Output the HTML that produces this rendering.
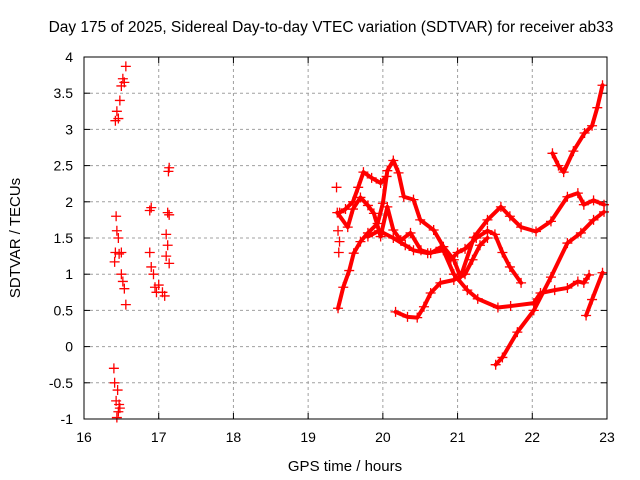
<!DOCTYPE html>
<html><head><meta charset="utf-8"><style>
body{margin:0;background:#fff;}
svg{display:block;font-family:"Liberation Sans",sans-serif;}
</style></head><body>
<svg id="chart" width="640" height="480">
<text x="331" y="32" font-size="15.5" text-anchor="middle">Day 175 of 2025, Sidereal Day-to-day VTEC variation (SDTVAR) for receiver ab33</text>
<text x="0" y="0" font-size="15" text-anchor="middle" transform="translate(20,238) rotate(-90)">SDTVAR / TECUs</text>
<text x="345" y="471" font-size="15" text-anchor="middle">GPS time / hours</text>
<g id="grid"></g><g id="ticks"></g><g id="marks"></g>
<rect x="84" y="57" width="523" height="362" fill="none" stroke="#000" stroke-width="1"/>
</svg>
<script>
const xTicks=[16,17,18,19,20,21,22,23];
const yTicks=[-1,-0.5,0,0.5,1,1.5,2,2.5,3,3.5,4];
const s1=[[19.4,0.53],[19.47,0.82],[19.55,1.05],[19.61,1.29],[19.7,1.45],[19.8,1.57],[19.93,1.7],[20.0,1.98],[20.06,2.43],[20.14,2.57],[20.21,2.4],[20.28,2.07],[20.41,2.03],[20.5,1.75],[20.68,1.61],[20.81,1.38],[20.95,1.2],[21.04,0.96],[21.22,1.51],[21.4,1.75],[21.58,1.93],[21.7,1.8],[21.85,1.65],[22.05,1.59],[22.25,1.73],[22.47,2.07],[22.61,2.12],[22.69,1.96],[22.82,2.02],[22.96,1.96]];
const s2=[[19.42,1.85],[19.5,1.9],[19.6,2.0],[19.67,2.2],[19.74,2.41],[19.85,2.33],[19.97,2.26],[20.05,2.35]];
const s3=[[19.39,1.85],[19.53,1.65],[19.6,1.9],[19.7,2.06],[19.8,1.95],[19.88,1.84],[19.97,1.52],[20.06,1.93],[20.14,1.61],[20.24,1.47],[20.37,1.57],[20.51,1.33],[20.64,1.29],[20.77,1.37],[20.91,1.2],[21.0,1.3],[21.1,1.35],[21.25,1.5],[21.4,1.6],[21.5,1.55],[21.6,1.3],[21.7,1.1],[21.85,0.88]];
const s4=[[19.8,1.52],[19.95,1.6],[20.14,1.5],[20.3,1.4],[20.41,1.33],[20.6,1.29],[20.81,1.33],[20.95,1.0],[21.13,0.78],[21.27,0.66],[21.54,0.54],[21.71,0.56],[22.02,0.6],[22.11,0.74],[22.3,0.78],[22.47,0.81],[22.61,0.9],[22.69,0.88],[22.76,0.99]];
const s5=[[20.17,0.48],[20.33,0.41],[20.46,0.4],[20.55,0.55],[20.64,0.74],[20.77,0.88],[20.95,0.92],[21.1,1.0],[21.2,1.2],[21.3,1.4],[21.4,1.5]];
const s6=[[21.51,-0.25],[21.6,-0.15],[21.8,0.2],[22.02,0.5],[22.25,0.96],[22.47,1.43],[22.65,1.57],[22.82,1.75],[22.96,1.86]];
const s7=[[22.27,2.67],[22.35,2.5],[22.42,2.41],[22.55,2.7],[22.7,2.95],[22.8,3.05],[22.87,3.3],[22.94,3.61]];
const s8=[[22.72,0.43],[22.8,0.65],[22.94,1.02]];
const scatter=[[16.42,3.12],[16.44,3.25],[16.46,3.15],[16.48,3.4],[16.5,3.6],[16.52,3.7],[16.54,3.65],[16.56,3.87],[16.43,1.8],[16.44,1.6],[16.46,1.5],[16.42,1.3],[16.41,1.17],[16.47,1.28],[16.5,1.0],[16.52,0.9],[16.54,0.8],[16.56,0.58],[16.5,1.3],[16.4,-0.3],[16.41,-0.5],[16.43,-0.75],[16.45,-0.6],[16.46,-0.9],[16.48,-0.85],[16.44,-0.98],[16.47,-0.8],[16.88,1.88],[16.9,1.92],[16.88,1.3],[16.9,1.1],[16.93,1.0],[16.95,0.82],[16.97,0.75],[17.0,0.85],[17.05,0.75],[17.08,0.7],[17.1,1.55],[17.12,1.4],[17.1,1.25],[17.14,1.15],[17.12,1.85],[17.14,1.82],[17.13,2.42],[17.14,2.47],[19.38,2.2],[19.4,1.6],[19.41,1.3],[19.42,1.45]];
const NS='http://www.w3.org/2000/svg';
const X=v=>84+(v-16)*(523/7), Y=v=>419-(v+1)*(362/5);
function mk(t,a,p){const e=document.createElementNS(NS,t);for(const k in a)e.setAttribute(k,a[k]);p.appendChild(e);return e;}
const grid=document.getElementById('grid'),ticks=document.getElementById('ticks'),marks=document.getElementById('marks');
xTicks.forEach(t=>{const x=X(t);
 if(t>16&&t<23){const g=mk('line',{x1:x,x2:x,y1:57,y2:419,stroke:'#a0a0a0','stroke-dasharray':'3,3'},grid);
 
 }
 mk('line',{x1:x,x2:x,y1:419,y2:413,stroke:'#000'},ticks);mk('line',{x1:x,x2:x,y1:57,y2:63,stroke:'#000'},ticks);
 const l=mk('text',{x:x,y:442,'font-size':14,'text-anchor':'middle'},ticks);l.textContent=t;
 
 });
yTicks.forEach(t=>{const y=Y(t);
 if(t>-1&&t<4){const g=mk('line',{x1:84,x2:607,y1:y,y2:y,stroke:'#a0a0a0','stroke-dasharray':'3,3'},grid);
 
 }
 mk('line',{x1:84,x2:90,y1:y,y2:y,stroke:'#000'},ticks);mk('line',{x1:601,x2:607,y1:y,y2:y,stroke:'#000'},ticks);
 const l=mk('text',{x:73,y:y+5,'font-size':14,'text-anchor':'end'},ticks);l.textContent=t;
 
 });
function plus(x,y,n){const p=mk('path',{d:`M${x-5},${y}h10M${x},${y-5}v10`,stroke:'#f00','stroke-width':1.3,fill:'none'},marks);
 
 }
[s1,s2,s3,s4,s5,s6,s7,s8].forEach((s,i)=>{
 const pl=mk('polyline',{points:s.map(d=>X(d[0])+','+Y(d[1])).join(' '),fill:'none',stroke:'#f00','stroke-width':4,'stroke-linejoin':'round','stroke-linecap':'round'},marks);
 
 
 s.forEach(d=>plus(X(d[0]),Y(d[1]),'series-'+(i+1)+'-point'));});
scatter.forEach(d=>plus(X(d[0]),Y(d[1]),'scatter-point'));
</script>
</body></html>
